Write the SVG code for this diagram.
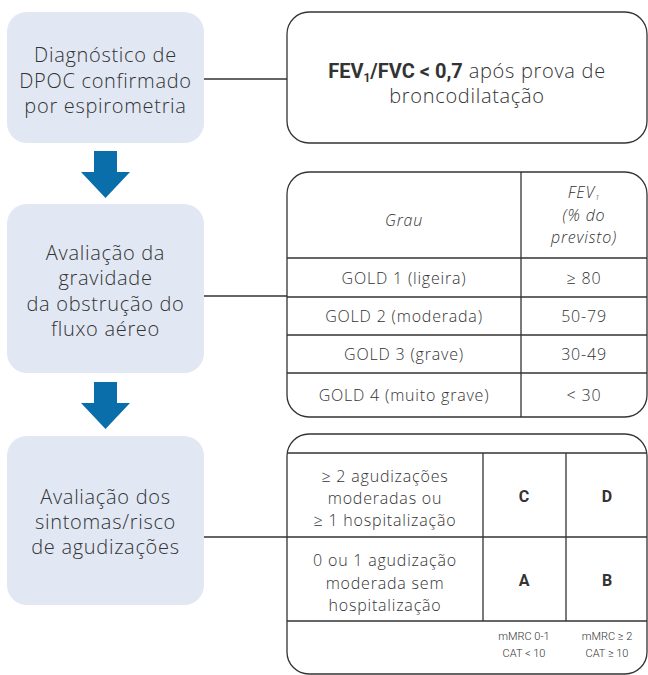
<svg xmlns="http://www.w3.org/2000/svg" width="648" height="675" viewBox="0 0 648 675">
<style>
.lbox{fill:#e1e8f3;}
.rbox{fill:#fff;stroke:#333;stroke-width:1.3;}
.ln{stroke:#333;stroke-width:1.3;fill:none;}
.arr{fill:#0a6eab;}
text{font-family:"Open Sans","Noto Sans",sans-serif;font-weight:300;fill:#333;text-anchor:middle;}
.big{font-size:20px;letter-spacing:0.7px;}
.mid{font-size:16px;letter-spacing:0.8px;}
.sm{font-size:11px;font-family:Roboto,sans-serif;letter-spacing:0;}
.b{font-weight:700;}
.bc{font-weight:700;font-family:Roboto,sans-serif;letter-spacing:0;}
.i{font-style:italic;}
</style>
<rect width="648" height="675" fill="#fff"/>
<g id="connectors">
<line class="ln" x1="204" y1="79" x2="287" y2="79"/>
<line class="ln" x1="204" y1="296" x2="287" y2="296"/>
<line class="ln" x1="204" y1="537" x2="287" y2="537"/>
<polygon class="arr" points="94,151 117,151 117,172 130,172 105.5,198 81,172 94,172"/>
<polygon class="arr" points="94,382 117,382 117,403 130,403 105.5,429 81,403 94,403"/>
</g>
<g id="n1">
<rect class="lbox" x="7" y="12" width="197" height="131" rx="20"/>
<text class="big" x="105.5" y="62">Diagnóstico de</text>
<text class="big" x="105.5" y="88">DPOC confirmado</text>
<text class="big" x="105.5" y="113">por espirometria</text>
</g>
<g id="n2">
<rect class="lbox" x="7" y="204" width="197" height="169" rx="20"/>
<text class="big" x="105.5" y="260">Avaliação da</text>
<text class="big" x="105.5" y="285">gravidade</text>
<text class="big" x="105.5" y="311">da obstrução do</text>
<text class="big" x="105.5" y="336">fluxo aéreo</text>
</g>
<g id="n3">
<rect class="lbox" x="7" y="436" width="197" height="169" rx="20"/>
<text class="big" x="105.5" y="504">Avaliação dos</text>
<text class="big" x="105.5" y="529">sintomas/risco</text>
<text class="big" x="105.5" y="554">de agudizações</text>
</g>
<g id="r1">
<rect class="rbox" x="287" y="12" width="360" height="131" rx="22"/>
<text class="big" x="467" y="78"><tspan class="bc">FEV<tspan font-size="12" dy="4">1</tspan><tspan dy="-4">/FVC &lt; 0,7</tspan></tspan> após prova de</text>
<text class="big" x="467" y="103">broncodilatação</text>
</g>
<g id="r2">
<rect class="rbox" x="287" y="172" width="360" height="245" rx="22"/>
<line class="ln" x1="521" y1="172" x2="521" y2="417"/>
<line class="ln" x1="287" y1="258" x2="647" y2="258"/>
<line class="ln" x1="287" y1="297" x2="647" y2="297"/>
<line class="ln" x1="287" y1="335" x2="647" y2="335"/>
<line class="ln" x1="287" y1="373" x2="647" y2="373"/>
<text class="mid i" x="404" y="226">Grau</text>
<text class="mid i" x="584" y="198">FEV<tspan font-size="8" dy="2">1</tspan></text>
<text class="mid i" x="584" y="221">(% do</text>
<text class="mid i" x="584" y="243">previsto)</text>
<text class="mid" x="404" y="284">GOLD 1 (ligeira)</text>
<text class="mid" x="584" y="284">≥ 80</text>
<text class="mid" x="404" y="322">GOLD 2 (moderada)</text>
<text class="mid" x="584" y="322">50-79</text>
<text class="mid" x="404" y="360">GOLD 3 (grave)</text>
<text class="mid" x="584" y="360">30-49</text>
<text class="mid" x="404" y="401">GOLD 4 (muito grave)</text>
<text class="mid" x="584" y="401">&lt; 30</text>
</g>
<g id="r3">
<rect class="rbox" x="287" y="434" width="360" height="240" rx="22"/>
<line class="ln" x1="287" y1="453" x2="647" y2="453"/>
<line class="ln" x1="287" y1="537" x2="647" y2="537"/>
<line class="ln" x1="287" y1="621" x2="647" y2="621"/>
<line class="ln" x1="483" y1="453" x2="483" y2="621"/>
<line class="ln" x1="566" y1="453" x2="566" y2="621"/>
<text class="mid" x="385" y="482">≥ 2 agudizações</text>
<text class="mid" x="385" y="504">moderadas ou</text>
<text class="mid" x="385" y="526">≥ 1 hospitalização</text>
<text class="mid bc" x="524" y="502">C</text>
<text class="mid bc" x="607" y="502">D</text>
<text class="mid" x="385" y="566">0 ou 1 agudização</text>
<text class="mid" x="385" y="589">moderada sem</text>
<text class="mid" x="385" y="611">hospitalização</text>
<text class="mid bc" x="524" y="586">A</text>
<text class="mid bc" x="607" y="586">B</text>
<text class="sm" x="524" y="640">mMRC 0-1</text>
<text class="sm" x="524" y="657">CAT &lt; 10</text>
<text class="sm" x="607" y="640">mMRC ≥ 2</text>
<text class="sm" x="607" y="657">CAT ≥ 10</text>
</g>
</svg>
